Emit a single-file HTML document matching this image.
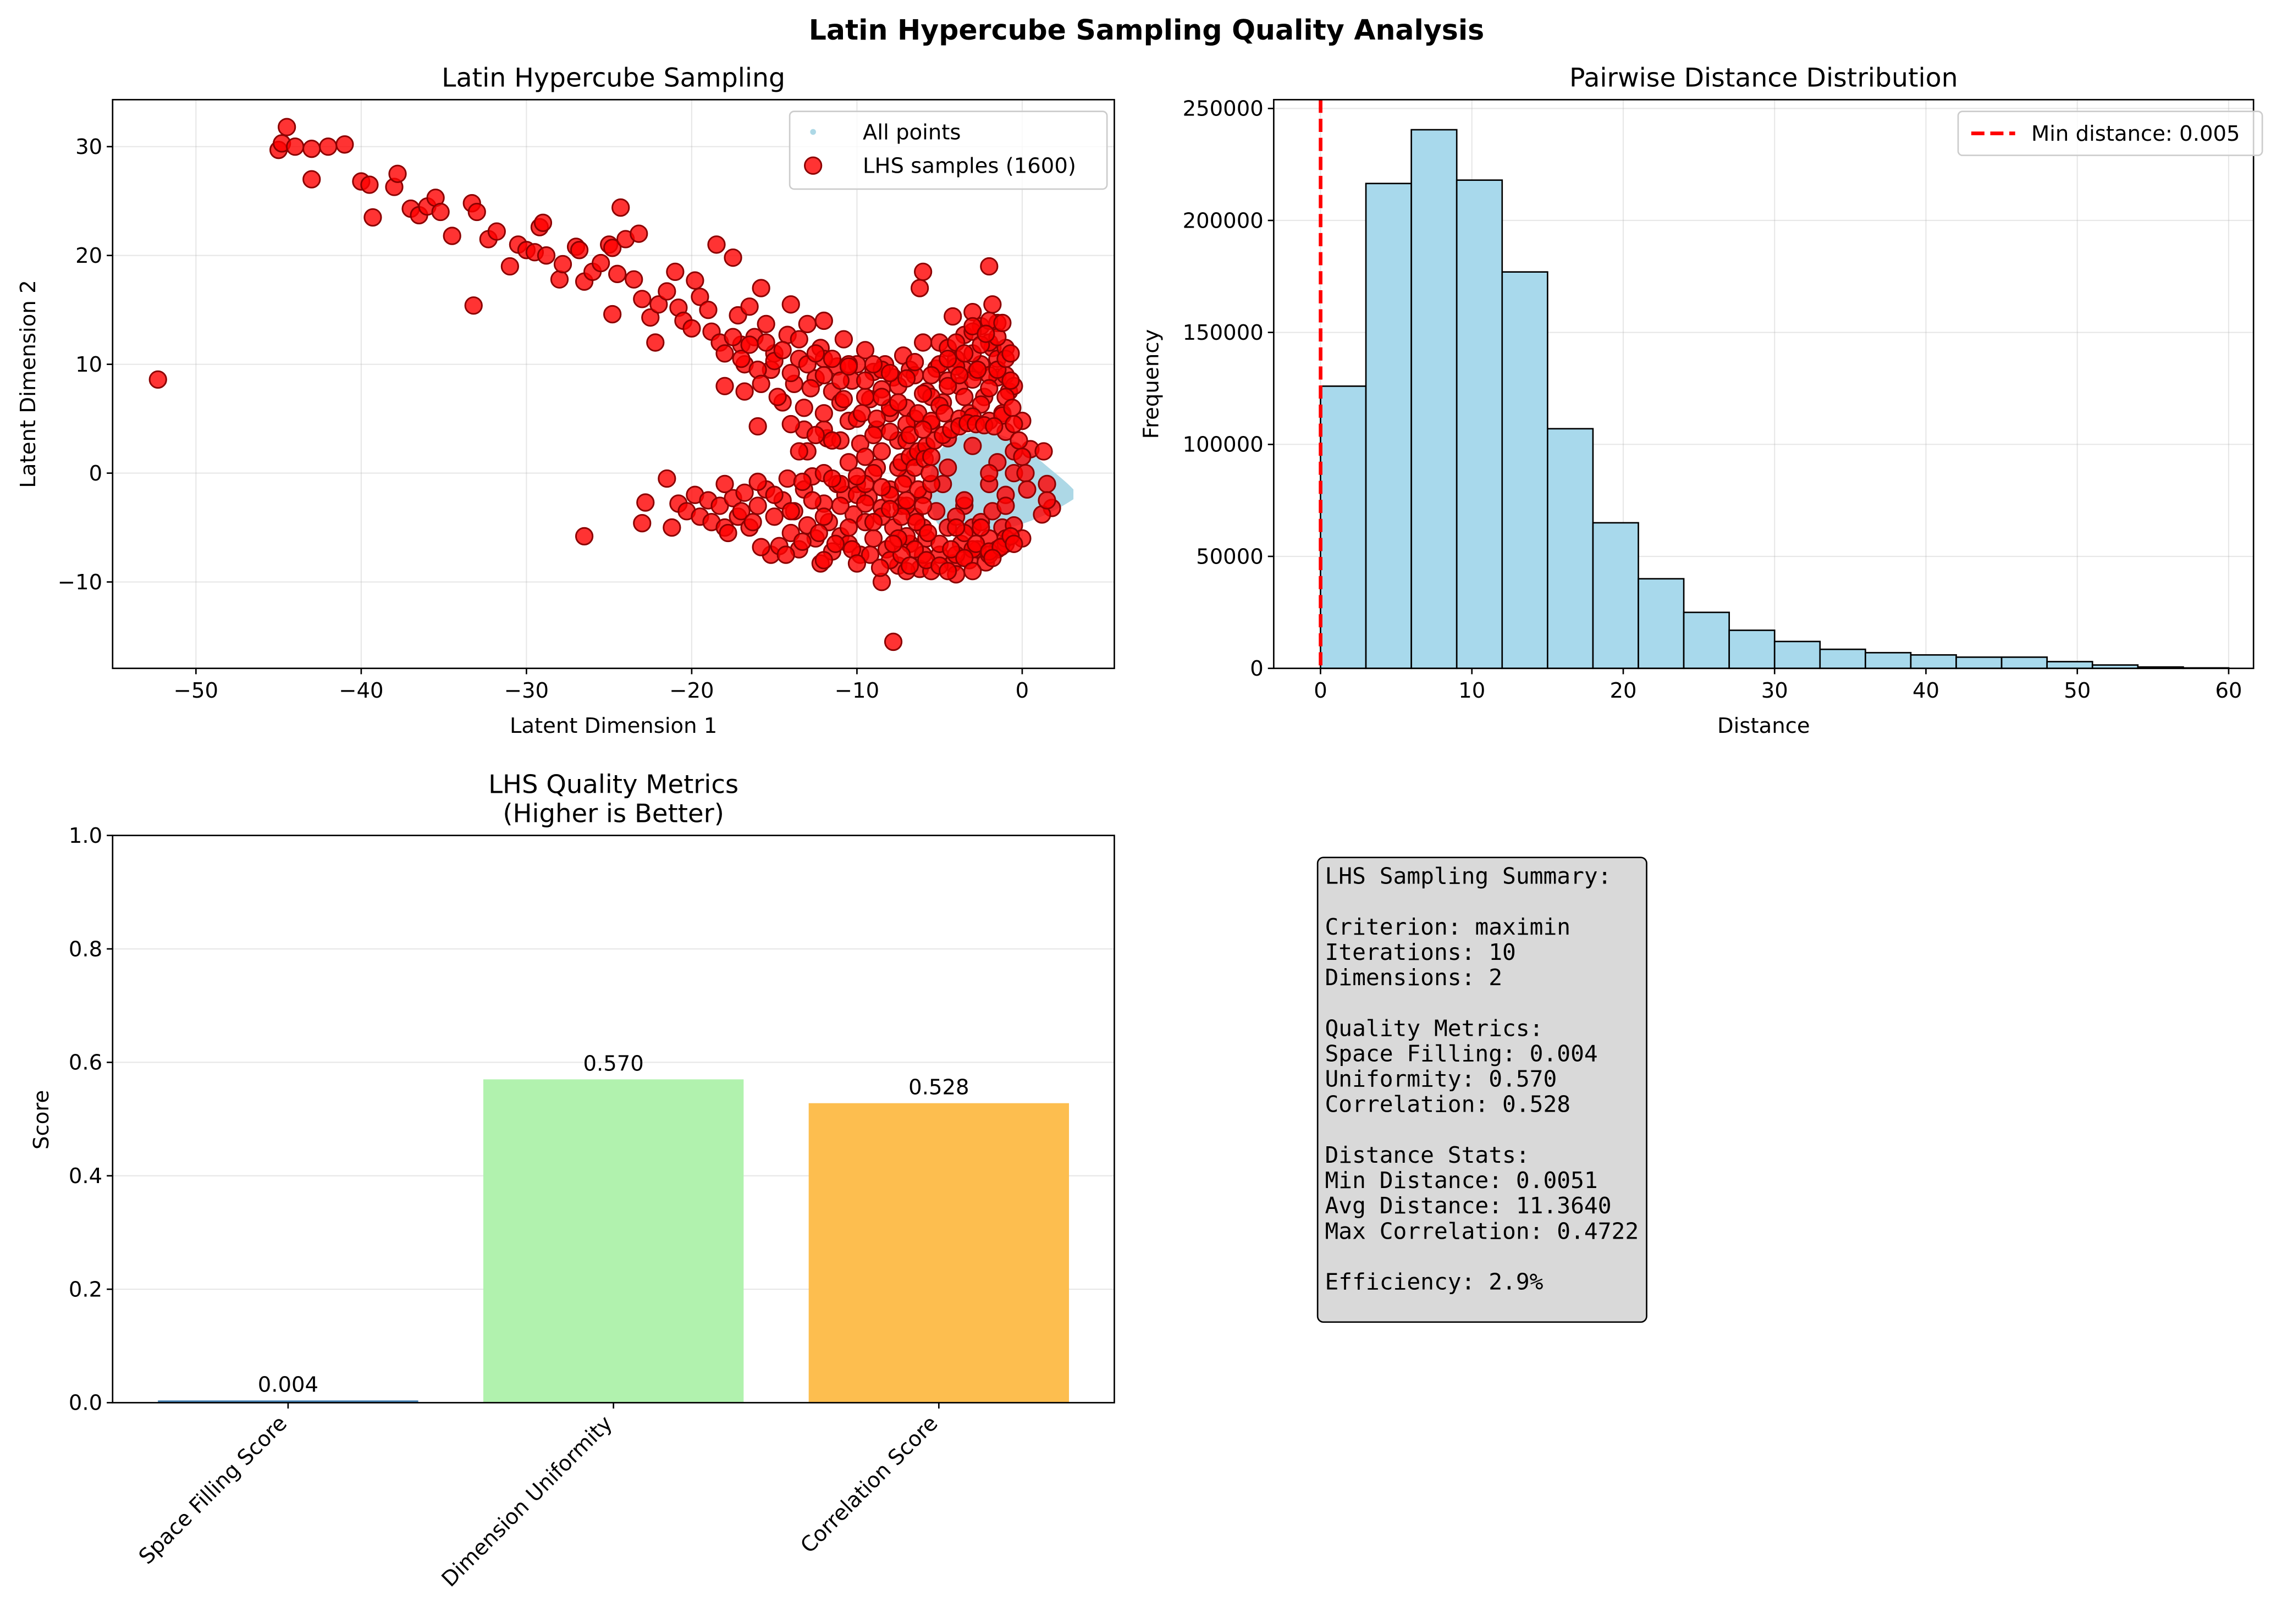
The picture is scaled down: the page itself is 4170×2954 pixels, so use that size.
<!DOCTYPE html>
<html><head><meta charset="utf-8"><style>
html,body{margin:0;padding:0;background:#fff}
svg{display:block}
text{font-family:"DejaVu Sans","Liberation Sans",sans-serif;fill:#000}
.mono{font-family:"DejaVu Sans Mono","Liberation Mono",monospace}
</style></head><body>
<svg id="fig" xmlns="http://www.w3.org/2000/svg" width="4170" height="2954" viewBox="0 0 1568 1108" preserveAspectRatio="none">
<rect width="1568" height="1108" fill="#fff"/>
<text x="784" y="27" text-anchor="middle" font-size="19" font-weight="bold">Latin Hypercube Sampling Quality Analysis</text>
<g id="sc"></g>
<g id="hi"></g>
<g id="ba"></g>
<g id="tb"></g>
</svg>
<script>
const lhsX=[-45,-44.8,-44.5,-44,-43,-42,-41,-43,-40,-39.5,-39.3,-38,-37.8,-37,-36.5,-36,-35.5,-35.2,-34.5,-33.3,-33,-33.2,-32.3,-31.8,-31,-30.5,-30,-29.5,-29.2,-29,-28.8,-28,-27.8,-27,-26.8,-26.5,-26,-25.5,-25,-24.8,-24.5,-24.8,-24.3,-24,-23.5,-23.2,-23,-22.5,-22.2,-22,-21.5,-21,-20.8,-20.5,-20,-19.8,-19.5,-19,-18.8,-18.5,-18.3,-18,-17.5,-17.2,-17,-16.8,-16.5,-16.2,-16,-15.8,-15.5,-15.2,-15,-14.5,-14.2,-14,-13.8,-13.5,-13.2,-13,-12.5,-12.2,-12,-11.8,-11.5,-11.2,-11,-10.8,-10.5,-10.3,-10,-9.8,-9.5,-9.2,-9,-8.8,-8.5,-8.3,-8,-7.8,-7.5,-7.2,-7,-6.8,-6.5,-6.2,-6,-5.8,-5.5,-5.2,-5,-4.8,-4.5,-4.2,-4,-3.8,-3.5,-3.2,-3,-2.8,-2.5,-2.3,-2,-1.8,-1.5,-1.2,-1,-0.8,-0.5,-1.5,0,0.5,1.3,1.5,1.8,1.2,-52.3,-26.5,-7.8,-8.5,
-21.5,-21.2,-20.8,-20.3,-19.8,-19.5,-19,-18.8,-18.3,-18,-17.5,-17.2,-16.8,-16.5,-16,-15.5,-15.2,-15,-14.7,-14.5,-14.2,-14,-13.8,-13.5,-13.2,-13,-12.7,-12.5,-12.2,-12,-11.7,-11.5,-11.2,-11,-10.7,-10.5,-10.2,-10,-9.8,-9.5,-9.3,-9,-8.8,-8.5,-8.2,-8,-7.8,-7.5,-7.3,-7,-6.8,-6.5,-6.2,-6,-5.8,-5.5,-5.2,-5,-4.8,-4.5,-4.2,-4,-3.7,-3.5,-3.2,-3,-2.7,-2.5,-2.2,-2,-1.8,-1.5,-1.2,-1,-0.5,0,-23,-22.8,
-9,-8.5,-8,-7.5,-7,-7,-6.5,-6,-6,-5.5,-5,-4.5,-4,-3.5,-3,-2.5,-2,-1.5,-1,-0.5,-1,-2,-8.5,-9.5,-10,-9,-8,-7.5,-6.5,-5,-3,-2,-1,-1.5,-2,-0.5,-1,-9.5,-10.5,-11,-12,-12,-13,-8,-7,-6,-4,-3.5,-10,-11,-9.5,-8.5,-10.5,-12,-6,-4.5,-3,
-18,-17.5,-17,-16.5,-16,-15.5,-15,-14.5,-14,-13.5,-13,-12.5,-12,-11.5,-11,-10.5,-16.8,-15.8,-14.8,-13.2,-12.8,-12,-11.5,-10.8,-14,-13.5,-12.5,
-9.5,-9,-8.5,-8,-7.5,-7,-6.5,-6,-5.5,-5,-4.5,-4,-3.5,-3,-2.5,-2,-1.5,-1,-0.7,-9.7,-8.8,-8,-7,-6.3,-5.5,-4.7,-3.8,-3,-2,-1.2,-0.6,
-7.3,-6.8,-6.3,-5.8,-5.3,-4.8,-4.3,-3.8,-3.3,-2.8,-2.3,-1.7,-6.5,-5.9,-0.5,-0.2,0,0.2,
-7.2,-6.3,-7,-6,-7.3,-6.4,-5.7,-7,-6.5,-7.3,-5.8,-6.8,-5.5,-5.6,-5.5,-6.8,-6,-7.5,
-18,-17,-16,-15,-14,-13.3,-12.7,-12,-11.5,-11,-10.5,-10,-9.5,-9,-8.5,-8,-7.8,-9.2,-10.3,-11.3,-12.3,-13.3,-14.3,-15.8,-16.3,-17.8,-12,-10,-8.6,
-5,-4.3,-3.5,-2.8,-2,-1.3,-0.7,-4.5,-3,-1.8,
-4.5,-4,-3.5,-3,-2.5,-2,-1.5,-1,-1.8,-2.7,-3.8,-0.7,-1.2,-2.2,
-4.5,-3,-2,-3.5,-1,-4,0.3,1.5,-2.5,-0.5];
const lhsY=[29.7,30.3,31.8,30,29.8,30,30.2,27,26.8,26.5,23.5,26.3,27.5,24.3,23.7,24.5,25.3,24,21.8,24.8,24,15.4,21.5,22.2,19,21,20.5,20.3,22.6,23,20,17.8,19.2,20.8,20.5,17.6,18.5,19.3,21,20.7,18.3,14.6,24.4,21.5,17.8,22,16,14.3,12,15.5,16.7,18.5,15.2,14,13.3,17.7,16.2,15,13,21,12,8,19.8,14.5,11.8,10,15.3,12.5,4.3,17,13.7,9.5,11,6.5,12.7,15.5,8.2,10.5,4,13.7,8.7,11.5,14,3.2,7.5,9.8,6.5,12.3,4.8,8.5,10,2.7,11.3,6.8,9.3,4,7.7,10,5.5,8.8,3,10.8,6,9.5,1.5,17,18.5,7.5,4.5,9.6,12,6.5,3.2,14.4,10.5,8,12.7,5.5,14.8,9.3,13.5,7,19,11.5,8.8,5.5,3.8,7.5,2,13.8,4.8,2.2,2,-1,-3.2,-3.8,8.6,-5.8,-15.5,-10,
-0.5,-5,-2.8,-3.5,-2,-4,-2.5,-4.5,-3,-5,-2.3,-4,-1.8,-5,-3,-1.5,-7.5,-4,-6.7,-2.5,-0.5,-5.5,-3.5,-7,-1.5,-4.8,-0.3,-6,-8.3,-2.8,-4.5,-7.2,-1,-5.8,-2,-6.5,-3.8,-1,-7.5,-4.5,-2.2,-6,0.5,-3.2,-7,-1.5,-5,-8.5,-3,-0.5,-6.5,-4,-8.8,-2,-6,-9,-3.5,-7.5,-1,-5,-8.3,-9.3,-6.5,-3,-8,-5,-7,-4.5,-8.2,-6,-3.5,-7,-5,-6.5,-4.8,-6,-4.6,-2.7,
0,2,-2,0.5,3,-3,5,-5,2,7,-6.5,8.5,-7.5,9.5,-7,10,9,10.5,9,8,-6,-7.5,-4,1.5,-2,3.5,6,8,9,10,11,12,11.5,1,-1,0,-2,-1,1,3,0,4,2,-8,-9,-7.5,-4,-5.5,5,-1,7,9.5,10,10.5,12,11.5,13,
11,12.5,10.5,11.8,9.5,12,10.3,11.3,9.2,12.3,10,11,9,10.5,8.5,9.8,7.5,8.2,7,6,7.8,5.5,3,6.8,4.5,2,3.5,
8.5,10,7,9.2,6.5,8.7,10.2,7.3,9,6.2,8,9.8,7,8.6,6.3,7.8,9.5,7,8.5,5.5,5,3.8,4.5,5.5,4.8,5.5,5,5.2,4.8,5.3,6,
1,1.5,2,2.5,3,3.5,4,4.3,4.6,4.5,4.4,4.3,0.5,1.3,4.5,3,1.5,0,
-1,-1.5,-2.5,-3,-4,-4.5,-5.5,-5.8,-7,-7.5,-8,-8.5,-1,0,1.5,3.5,4,-6,
-1,-3.5,-0.8,-2,-3.5,-0.8,-2.5,-4,-0.5,-3,-5,-0.3,-2.8,-4.5,-1.3,-3.3,-6.5,-7.5,-7,-6.5,-5.5,-6.3,-7.5,-6.8,-4.5,-5.5,-8,-8.3,-8.7,
-8.5,-7,-7.8,-6.5,-7.2,-6.8,-5.8,-9,-9,-7.8,
10.5,12,11,13.5,11.8,14,12.5,10.5,15.5,9.5,9,11,13.8,12.8,
0.5,2.5,0,-2.5,-3,-5,-1.5,-2.5,-5,-6.5];
const histCounts=[126000,216500,240500,218000,177000,107000,65000,40000,25000,17000,12000,8500,7000,6000,5000,5000,3000,1500,600,200];
const histEdgeStart=0, histBinWidth=3;
const histXTicks=[0,10,20,30,40,50,60];
const histYTicks=[0,50000,100000,150000,200000,250000];
const scXTicks=[-50,-40,-30,-20,-10,0];
const scYTicks=[-10,0,10,20,30];
const barCats=["Space Filling Score","Dimension Uniformity","Correlation Score"];
const barVals=[0.004,0.570,0.528];
const barYTicks=[0.0,0.2,0.4,0.6,0.8,1.0];
const minDist=0.005;
const NS="http://www.w3.org/2000/svg";
const FS=14.5;
function mk(p,t,a,txt){const e=document.createElementNS(NS,t);for(const k in a)e.setAttribute(k,a[k]);if(txt!==undefined)e.textContent=txt;p.appendChild(e);return e;}
const fmt=v=>v<0?"\u2212"+(-v):String(v);
// scatter
const sc=document.getElementById('sc');
const sx=v=>699+v*11.3, sy=v=>322.8-v*7.425;
scXTicks.forEach(t=>{const x=sx(t);const g=mk(sc,'line',{x1:x,x2:x,y1:68,y2:456,stroke:'#b0b0b0','stroke-width':0.8,'stroke-opacity':0.3});
 const l=mk(sc,'line',{x1:x,x2:x,y1:456,y2:460,stroke:'#000'});
 const tx=mk(sc,'text',{x:x,y:476,'text-anchor':'middle','font-size':FS},fmt(t));});
scYTicks.forEach(t=>{const y=sy(t);const g=mk(sc,'line',{x1:77,x2:762,y1:y,y2:y,stroke:'#b0b0b0','stroke-width':0.8,'stroke-opacity':0.3});
 const l=mk(sc,'line',{x1:73,x2:77,y1:y,y2:y,stroke:'#000'});
 const tx=mk(sc,'text',{x:70,y:y+5,'text-anchor':'end','font-size':FS},fmt(t));});
const blob=mk(sc,'path',{d:`M${sx(-5.6)},${sy(-1)} C${sx(-5.6)},${sy(4)} ${sx(-2)},${sy(5.2)} ${sx(0.5)},${sy(2)} C${sx(1.5)},${sy(0.5)} ${sx(2.5)},${sy(-0.5)} ${sx(3.1)},${sy(-1.5)} L${sx(3.1)},${sy(-2.4)} C${sx(1)},${sy(-4.5)} ${sx(-2)},${sy(-6)} ${sx(-4.5)},${sy(-5.5)} C${sx(-5.6)},${sy(-4.5)} ${sx(-5.6)},${sy(-2.5)} ${sx(-5.6)},${sy(-1)}Z`,fill:'#add8e6'});

lhsX.forEach((v,i)=>{const c=mk(sc,'circle',{cx:sx(v),cy:sy(lhsY[i]),r:5.7,fill:'rgba(255,0,0,0.8)',stroke:'#8b0000','stroke-width':1.1});});
let f=mk(sc,'rect',{x:77,y:68,width:685,height:388,fill:'none',stroke:'#000','stroke-width':1});
f=mk(sc,'text',{x:419.5,y:59,'text-anchor':'middle','font-size':17.8},'Latin Hypercube Sampling');
f=mk(sc,'text',{x:419.5,y:500,'text-anchor':'middle','font-size':FS},'Latent Dimension 1');
f=mk(sc,'text',{x:0,y:0,'text-anchor':'middle','font-size':FS,transform:'translate(24,262) rotate(-90)'},'Latent Dimension 2');
f=mk(sc,'rect',{x:540,y:76,width:217,height:53,rx:3,fill:'rgba(255,255,255,0.8)',stroke:'#ccc'});
f=mk(sc,'circle',{cx:556,cy:90,r:2,fill:'#add8e6'});
f=mk(sc,'text',{x:590,y:95,'font-size':FS},'All points');
f=mk(sc,'circle',{cx:556,cy:113,r:5.7,fill:'rgba(255,0,0,0.8)',stroke:'#8b0000','stroke-width':1.1});
f=mk(sc,'text',{x:590,y:118,'font-size':FS},'LHS samples (1600)');
// histogram
const hi=document.getElementById('hi');
const hx=v=>903+v*10.35, hy=v=>456-v*382/250000;
histXTicks.forEach(t=>{const x=hx(t);let g=mk(hi,'line',{x1:x,x2:x,y1:68,y2:456,stroke:'#b0b0b0','stroke-width':0.8,'stroke-opacity':0.3});
 g=mk(hi,'line',{x1:x,x2:x,y1:456,y2:460,stroke:'#000'});
 g=mk(hi,'text',{x:x,y:476,'text-anchor':'middle','font-size':FS},String(t));});
histYTicks.forEach(t=>{const y=hy(t);let g=mk(hi,'line',{x1:871,x2:1541,y1:y,y2:y,stroke:'#b0b0b0','stroke-width':0.8,'stroke-opacity':0.3});
 g=mk(hi,'line',{x1:867,x2:871,y1:y,y2:y,stroke:'#000'});
 g=mk(hi,'text',{x:864,y:y+5,'text-anchor':'end','font-size':FS},String(t));});
histCounts.forEach((c,i)=>{const x0=hx(histEdgeStart+i*histBinWidth),x1=hx(histEdgeStart+(i+1)*histBinWidth);const r=mk(hi,'rect',{x:x0,y:hy(c),width:x1-x0,height:456-hy(c),fill:'#a8d9ec',stroke:'#000','stroke-width':1});});
f=mk(hi,'line',{x1:hx(minDist),x2:hx(minDist),y1:68,y2:456,stroke:'#f00','stroke-width':2.5,'stroke-dasharray':'9,4'});
f=mk(hi,'rect',{x:871,y:68,width:670,height:388,fill:'none',stroke:'#000'});
f=mk(hi,'text',{x:1206,y:59,'text-anchor':'middle','font-size':17.8},'Pairwise Distance Distribution');
f=mk(hi,'text',{x:1206,y:500,'text-anchor':'middle','font-size':FS},'Distance');
f=mk(hi,'text',{x:0,y:0,'text-anchor':'middle','font-size':FS,transform:'translate(792,262) rotate(-90)'},'Frequency');
f=mk(hi,'rect',{x:1339,y:76,width:208,height:30,rx:3,fill:'rgba(255,255,255,0.8)',stroke:'#ccc'});
f=mk(hi,'line',{x1:1348,x2:1378,y1:91,y2:91,stroke:'#f00','stroke-width':2.5,'stroke-dasharray':'9,4'});
f=mk(hi,'text',{x:1389,y:96,'font-size':FS},'Min distance: '+minDist.toFixed(3));
// bars
const ba=document.getElementById('ba');
const by=v=>957-v*387, bx=i=>197+i*222.5;
const barColors=['#4682b4','#b1f2ae','#fdbe4f'];
barYTicks.forEach(t=>{const y=by(t);let g=mk(ba,'line',{x1:77,x2:762,y1:y,y2:y,stroke:'#b0b0b0','stroke-width':0.8,'stroke-opacity':0.3});
 g=mk(ba,'line',{x1:73,x2:77,y1:y,y2:y,stroke:'#000'});
 g=mk(ba,'text',{x:70,y:y+5,'text-anchor':'end','font-size':FS},t.toFixed(1));});
barVals.forEach((v,i)=>{const x=bx(i);let r=mk(ba,'rect',{x:x-89,y:by(v),width:178,height:Math.max(957-by(v),0.8),fill:barColors[i]});
 r=mk(ba,'text',{x:x,y:by(v)-6,'text-anchor':'middle','font-size':FS},v.toFixed(3));
 r=mk(ba,'line',{x1:x,x2:x,y1:957,y2:961,stroke:'#000'});
 r=mk(ba,'text',{x:0,y:0,'text-anchor':'end','font-size':FS,transform:`translate(${x},${972}) rotate(-45)`},barCats[i]);});
f=mk(ba,'rect',{x:77,y:570,width:685,height:387,fill:'none',stroke:'#000'});
f=mk(ba,'text',{x:419.5,y:541,'text-anchor':'middle','font-size':17.5},'LHS Quality Metrics');
f=mk(ba,'text',{x:419.5,y:561,'text-anchor':'middle','font-size':17.5},'(Higher is Better)');
f=mk(ba,'text',{x:0,y:0,'text-anchor':'middle','font-size':FS,transform:'translate(33,764) rotate(-90)'},'Score');
// text box
const tb=document.getElementById('tb');
f=mk(tb,'rect',{x:901,y:585,width:225,height:317,rx:4,fill:'#d9d9d9',stroke:'#000','stroke-width':1});
const lines=["LHS Sampling Summary:","","Criterion: maximin","Iterations: 10","Dimensions: 2","","Quality Metrics:","Space Filling: 0.004","Uniformity: 0.570","Correlation: 0.528","","Distance Stats:","Min Distance: 0.0051","Avg Distance: 11.3640","Max Correlation: 0.4722","","Efficiency: 2.9%"];
lines.forEach((s,i)=>{if(!s)return;const t=mk(tb,'text',{x:906,y:603+i*17.3,'font-size':15.5,class:'mono'},s);});
</script>
</body></html>
